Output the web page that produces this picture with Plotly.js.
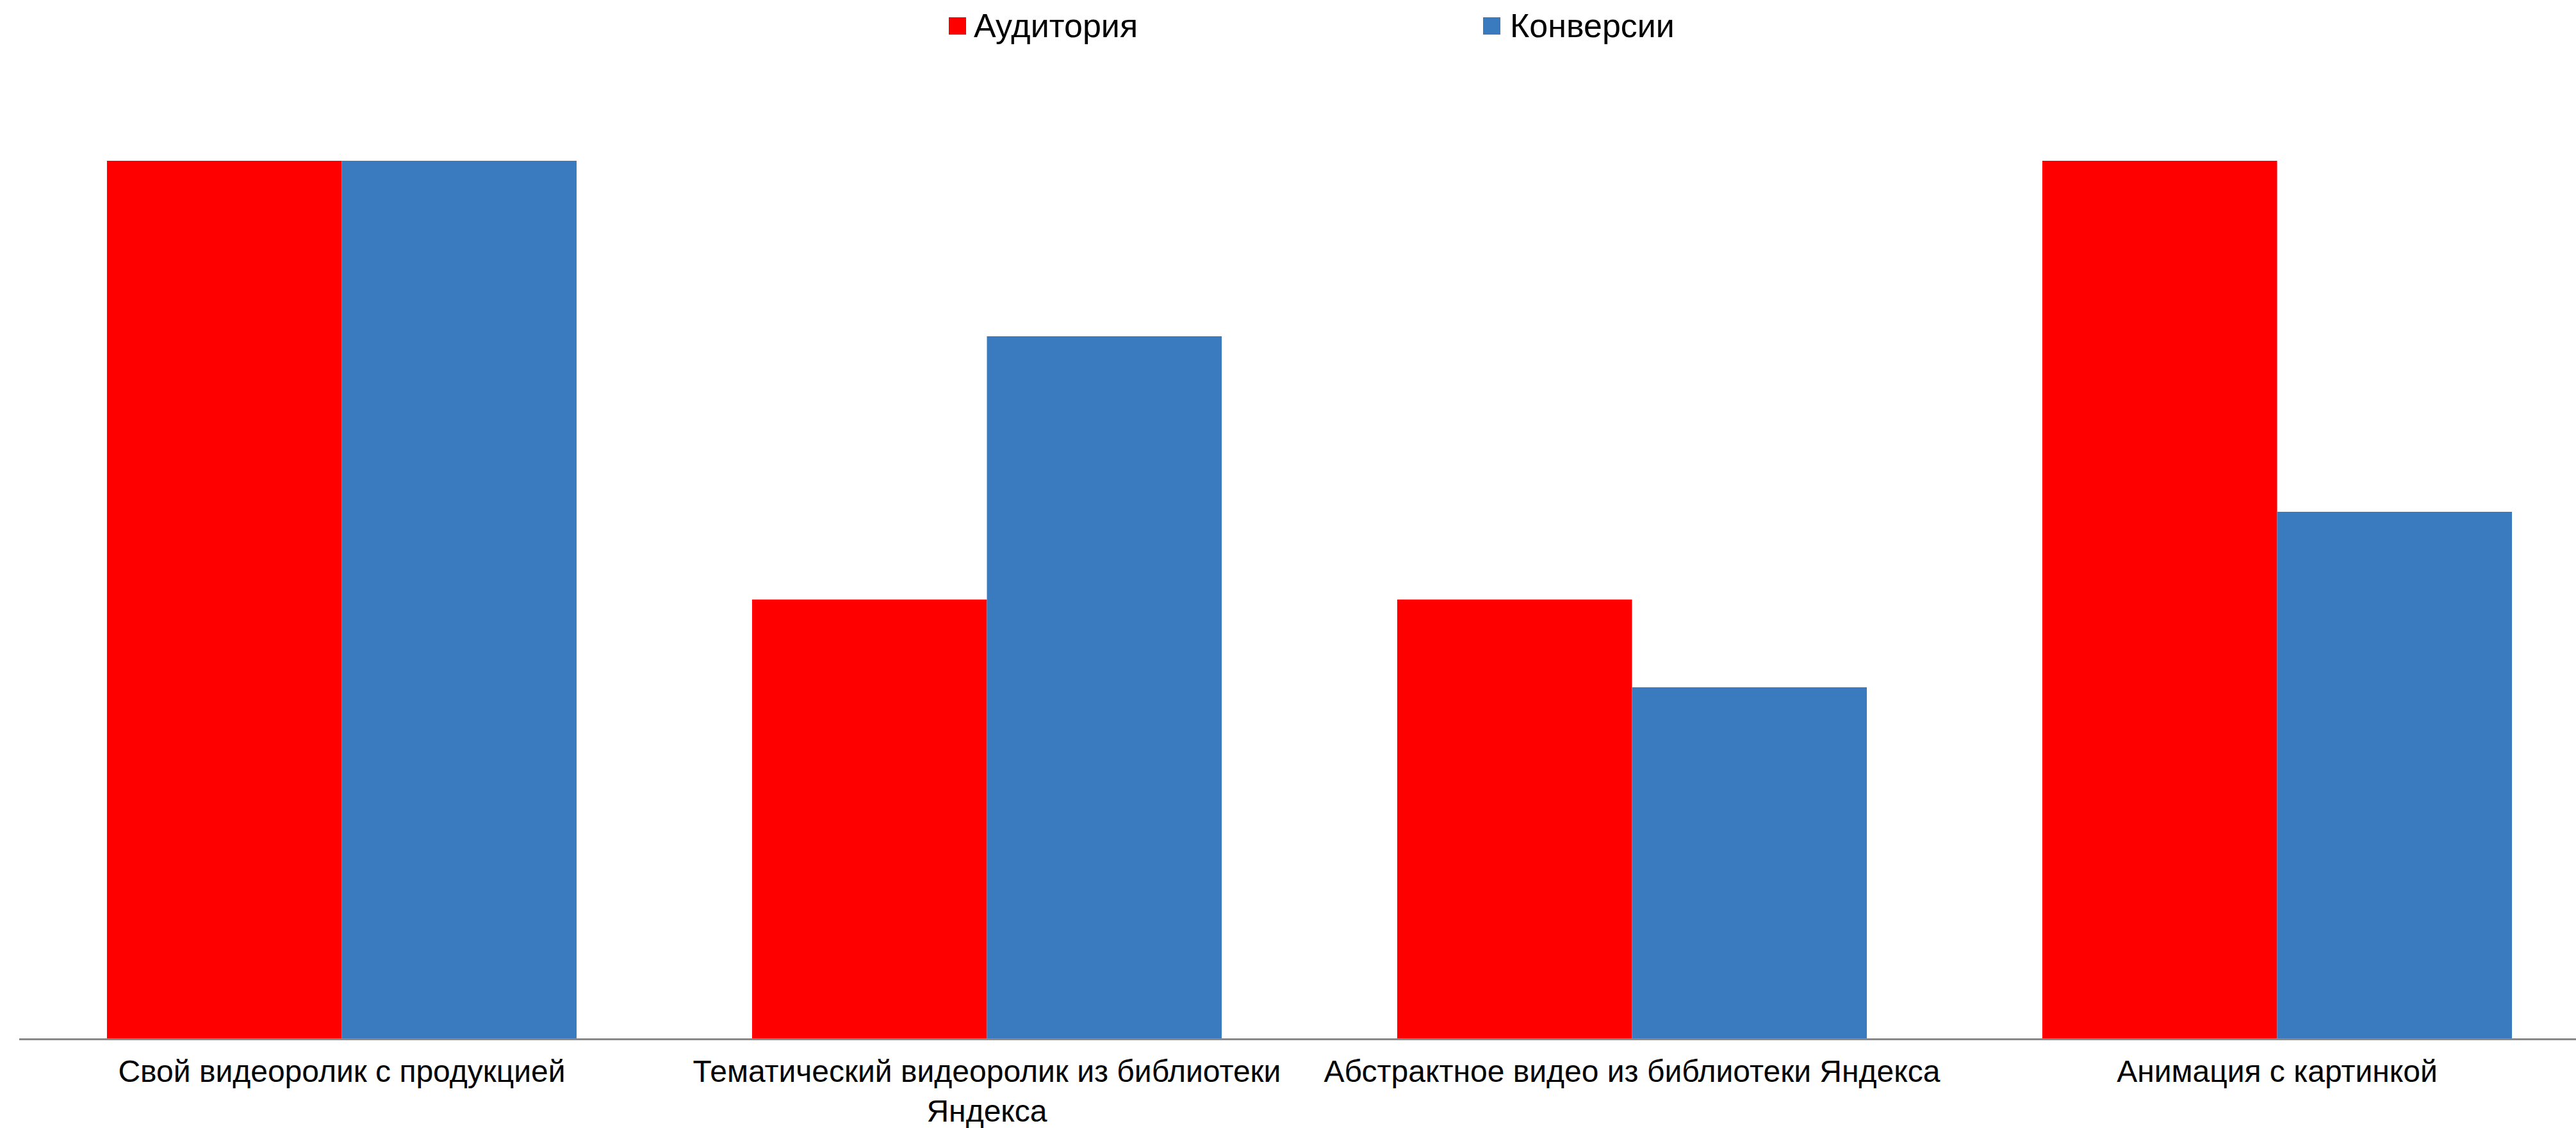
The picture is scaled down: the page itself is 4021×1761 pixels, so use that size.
<!DOCTYPE html>
<html>
<head>
<meta charset="utf-8">
<script src="https://cdn.plot.ly/plotly-3.0.1.min.js"></script>
<style>html,body{margin:0;padding:0;background:#fff;}</style>
</head>
<body>
<div id="chart" style="width:4021px;height:1761px;"></div>
<script>
var categories = [
  "Свой видеоролик с продукцией",
  "Тематический видеоролик из библиотеки<br>Яндекса",
  "Абстрактное видео из библиотеки Яндекса",
  "Анимация с картинкой"
];
var seriesNames = ["Аудитория", "Конверсии"];
var audience = [10, 5, 5, 10];
var conversions = [10, 8, 4, 6];
var colors = ["#FF0000", "#3A7ABF"];

var W = 4021, H = 1761;
var mL = 30, mR = 0, mT = 113.7, mB = 140;
var plotW = W - mL - mR, plotH = H - mT - mB;
function px(x) { return (x - mL) / plotW; }
function py(y) { return (H - mB - y) / plotH; }

var font = "Liberation Sans, Arial, sans-serif";

var traces = [
  {type: "bar", name: seriesNames[0], x: categories, y: audience,
   marker: {color: colors[0], line: {width: 0}}, hoverinfo: "x+y", showlegend: false},
  {type: "bar", name: seriesNames[1], x: categories, y: conversions,
   marker: {color: colors[1], line: {width: 0}}, hoverinfo: "x+y", showlegend: false}
];

var legendSquares = [[1481, 1508], [2315, 2342]];
var legendTextX = [1519, 2356];
var shapes = [], annotations = [];
for (var i = 0; i < seriesNames.length; i++) {
  shapes.push({type: "rect", xref: "paper", yref: "paper",
    x0: px(legendSquares[i][0]), x1: px(legendSquares[i][1]),
    y0: py(53.7), y1: py(26.7), fillcolor: colors[i], line: {width: 0}});
  annotations.push({xref: "paper", yref: "paper", x: px(legendTextX[i]), y: py(39.7),
    xanchor: "left", yanchor: "middle", showarrow: false, text: seriesNames[i],
    font: {family: font, size: 52, color: "#000000"}, borderpad: 0});
}

var layout = {
  width: W, height: H,
  margin: {l: mL, r: mR, t: mT, b: mB, pad: 0},
  paper_bgcolor: "#ffffff", plot_bgcolor: "#ffffff",
  barmode: "group", bargap: 0.272, bargroupgap: 0,
  showlegend: false,
  font: {family: font, size: 48, color: "#000000"},
  xaxis: {type: "category", range: [-0.5, (W - mR - mL) / 1007 - 0.5],
    showline: true, linecolor: "#898989", linewidth: 3, showgrid: false, zeroline: false,
    ticks: "", ticklabelstandoff: 7,
    tickfont: {family: font, size: 48, color: "#000000"}, automargin: false},
  yaxis: {range: [0, 11], visible: false, showgrid: false, zeroline: false},
  shapes: shapes, annotations: annotations
};

Plotly.newPlot("chart", traces, layout, {displayModeBar: false, responsive: false});
</script>
</body>
</html>
